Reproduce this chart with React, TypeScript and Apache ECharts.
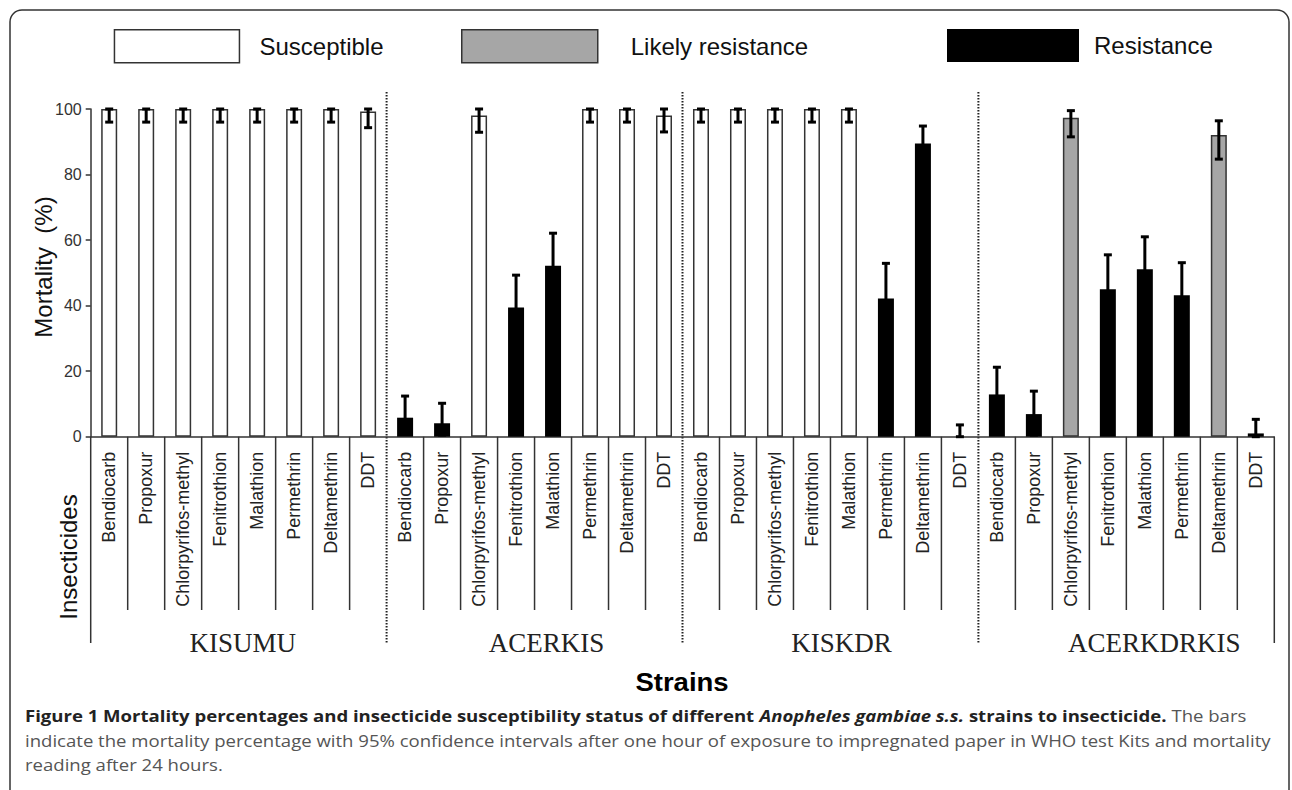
import React, { useEffect, useRef } from "react";
import * as echarts from "echarts";

// ---------- DATA ----------
const strains = ["KISUMU", "ACERKIS", "KISKDR", "ACERKDRKIS"];
const insecticides = [
  "Bendiocarb",
  "Propoxur",
  "Chlorpyrifos-methyl",
  "Fenitrothion",
  "Malathion",
  "Permethrin",
  "Deltamethrin",
  "DDT",
];
const statusNames = ["Susceptible", "Likely resistance", "Resistance"];

// mortality (%) per strain, in insecticide order
const kisumuMortality = [100, 100, 100, 100, 100, 100, 100, 99.2];
const acerkisMortality = [5.8, 4.1, 98, 39.4, 52.2, 100, 100, 98];
const kiskdrMortality = [100, 100, 100, 100, 100, 42.2, 89.5, 0];
const acerkdrkisMortality = [12.9, 6.9, 97.3, 45.0, 51.1, 43.2, 92.1, 1.0];

// 95% CI lower / upper
const kisumuLow = [96, 96, 96, 96, 96, 96, 96, 94.3];
const kisumuHigh = [100, 100, 100, 100, 100, 100, 100, 100];
const acerkisLow = [1.5, 0.5, 92.9, 29.5, 42.3, 96, 96, 93];
const acerkisHigh = [12.4, 10.2, 100, 49.3, 62.1, 100, 100, 100];
const kiskdrLow = [96, 96, 96, 96, 96, 32, 84.2, 0];
const kiskdrHigh = [100, 100, 100, 100, 100, 52.9, 94.8, 3.6];
const acerkdrkisLow = [4.6, 0.5, 91.5, 34.5, 41.2, 33.3, 84.7, 0];
const acerkdrkisHigh = [21.2, 13.9, 99.5, 55.5, 61.0, 53.1, 96.4, 5.3];

// status: 0 susceptible, 1 likely resistance, 2 resistance
const kisumuStatus = [0, 0, 0, 0, 0, 0, 0, 0];
const acerkisStatus = [2, 2, 0, 2, 2, 0, 0, 0];
const kiskdrStatus = [0, 0, 0, 0, 0, 2, 2, 2];
const acerkdrkisStatus = [2, 2, 1, 2, 2, 2, 1, 2];

const yTicks = [0, 20, 40, 60, 80, 100];

const mortality = [...kisumuMortality, ...acerkisMortality, ...kiskdrMortality, ...acerkdrkisMortality];
const ciLow = [...kisumuLow, ...acerkisLow, ...kiskdrLow, ...acerkdrkisLow];
const ciHigh = [...kisumuHigh, ...acerkisHigh, ...kiskdrHigh, ...acerkdrkisHigh];
const status = [...kisumuStatus, ...acerkisStatus, ...kiskdrStatus, ...acerkdrkisStatus];

const categories = strains.flatMap((s) => insecticides.map((i) => `${s}|${i}`));

const SANS = "'Liberation Sans', Arial, Helvetica, sans-serif";
const SERIF = "'Liberation Serif', 'Times New Roman', serif";
const CAP = "'Open Sans', 'Noto Sans', sans-serif";

const barStyles = [
  { color: "#ffffff", borderColor: "#333333", borderWidth: 1.5 },
  { color: "#a6a6a6", borderColor: "#333333", borderWidth: 1.5 },
  { color: "#000000", borderColor: "#000000", borderWidth: 0 },
];

export default function App() {
  const ref = useRef<HTMLDivElement>(null);

  useEffect(() => {
    if (!ref.current) return;
    const chart = echarts.init(ref.current, undefined, { renderer: "svg" });

    const gridLeft = 90.7;
    const gridRight = 17.7;
    const gridTop = 109;
    const gridBottom = 790 - 436.7;

    const legendBoxes = [
      { left: 113.7, w: 125, pad: 15 },
      { left: 461, w: 136, pad: 28 },
      { left: 947, w: 132, pad: 10 },
    ];

    const option: any = {
      animation: false,
      backgroundColor: "#ffffff",
      grid: { left: gridLeft, right: gridRight, top: gridTop, bottom: gridBottom, containLabel: false },
      legend: statusNames.map((n, k) => ({
        data: [n],
        left: legendBoxes[k].left,
        top: 29,
        padding: 0,
        itemWidth: legendBoxes[k].w,
        itemHeight: 33,
        selectedMode: false,
        icon: "rect",
        itemStyle: barStyles[k],
        textStyle: {
          fontFamily: SANS,
          fontSize: 24,
          color: "#111",
          padding: [0, 0, 0, legendBoxes[k].pad],
        },
      })),
      xAxis: {
        type: "category",
        data: categories,
        axisLine: { show: true, lineStyle: { color: "#333", width: 1.5 } },
        axisTick: { show: false },
        axisLabel: {
          interval: 0,
          rotate: 90,
          margin: 15,
          fontFamily: SANS,
          fontSize: 18,
          color: "#222",
          formatter: (v: string) => v.split("|")[1],
        },
      },
      yAxis: {
        type: "value",
        min: 0,
        max: 100,
        interval: 20,
        splitLine: { show: false },
        axisLine: { show: true, lineStyle: { color: "#333", width: 1.5 } },
        axisTick: { show: true, inside: false, length: 5, lineStyle: { color: "#333", width: 1.5 } },
        axisLabel: {
          margin: 9,
          fontFamily: SANS,
          fontSize: 16,
          color: "#333",
          formatter: (v: number) => (yTicks.includes(v) ? String(v) : ""),
        },
      },
      series: [
        ...statusNames.map((n, k) => ({
          name: n,
          type: "bar",
          barWidth: 16,
          barGap: "-100%",
          itemStyle: barStyles[k],
          data: mortality.map((v, i) => (status[i] === k ? v : "-")),
        })),
        {
          name: "CI",
          type: "custom",
          z: 5,
          data: mortality.map((_, i) => [i, ciLow[i], ciHigh[i]]),
          encode: { x: 0, y: [1, 2] },
          renderItem: (params: any, api: any) => {
            const i = api.value(0);
            const lo = api.coord([i, api.value(1)]);
            const hi = api.coord([i, api.value(2)]);
            const x = lo[0];
            const w = 4;
            const st = { stroke: "#000", lineWidth: 3 };
            return {
              type: "group",
              children: [
                { type: "line", shape: { x1: x, y1: lo[1], x2: x, y2: hi[1] }, style: st },
                { type: "line", shape: { x1: x - w, y1: hi[1], x2: x + w, y2: hi[1] }, style: st },
                { type: "line", shape: { x1: x - w, y1: lo[1], x2: x + w, y2: lo[1] }, style: st },
              ],
            };
          },
        },
      ],
    };
    chart.setOption(option);

    // structural decorations computed from the axis
    const c0 = chart.convertToPixel({ xAxisIndex: 0 }, 0) as number;
    const c1 = chart.convertToPixel({ xAxisIndex: 0 }, 1) as number;
    const band = c1 - c0;
    const yZero = chart.convertToPixel({ yAxisIndex: 0 }, 0) as number;
    const n = categories.length;
    const per = insecticides.length;
    const els: any[] = [];

    els.push({
      type: "rect",
      silent: true,
      shape: { x: 10, y: 10, width: 1279, height: 800, r: 12 },
      style: { fill: "none", stroke: "#333", lineWidth: 1.5 },
    });

    for (let i = 0; i <= n; i++) {
      const bx = c0 - band / 2 + i * band;
      if (i === 0 || i === n) {
        els.push({
          type: "line",
          silent: true,
          shape: { x1: bx, y1: yZero, x2: bx, y2: 643 },
          style: { stroke: "#333", lineWidth: 1.5 },
        });
      } else if (i % per === 0) {
        els.push({
          type: "line",
          silent: true,
          shape: { x1: bx, y1: 92, x2: bx, y2: 643 },
          style: { stroke: "#222", lineWidth: 2, lineDash: [1.5, 1.5] },
        });
      } else {
        els.push({
          type: "line",
          silent: true,
          shape: { x1: bx, y1: yZero, x2: bx, y2: 610 },
          style: { stroke: "#333", lineWidth: 1.5 },
        });
      }
    }

    const strainOffsets = [4, 12, 11, 28];
    strains.forEach((s, k) => {
      const mid = c0 - band / 2 + (k * per + per / 2) * band;
      els.push({
        type: "text",
        silent: true,
        x: mid + strainOffsets[k],
        y: 643,
        style: {
          text: s,
          fontFamily: SERIF,
          fontSize: 27,
          fill: "#222",
          align: "center",
          verticalAlign: "middle",
        },
      });
    });

    els.push({
      type: "text",
      silent: true,
      x: 43,
      y: 267,
      rotation: Math.PI / 2,
      style: {
        text: "Mortality  (%)",
        fontFamily: SANS,
        fontSize: 24,
        fill: "#111",
        align: "center",
        verticalAlign: "middle",
      },
    });
    els.push({
      type: "text",
      silent: true,
      x: 68,
      y: 557,
      rotation: Math.PI / 2,
      style: {
        text: "Insecticides",
        fontFamily: SANS,
        fontSize: 24,
        fill: "#111",
        align: "center",
        verticalAlign: "middle",
      },
    });
    els.push({
      type: "text",
      silent: true,
      x: 682,
      y: 682,
      scaleX: 1.1,
      style: {
        text: "Strains",
        fontFamily: SANS,
        fontWeight: 900,
        fontSize: 25,
        fill: "#000",
        align: "center",
        verticalAlign: "middle",
      },
    });

    const capScale = 1.16;
    els.push({
      type: "text",
      silent: true,
      x: 25,
      y: 716,
      scaleX: capScale,
      style: {
        text:
          "{b|Figure 1 Mortality percentages and insecticide susceptibility status of different }{bi|Anopheles gambiae s.s.}{b| strains to insecticide.}{r| The bars}",
        verticalAlign: "middle",
        rich: {
          b: { fontFamily: CAP, fontWeight: "bold", fontSize: 16, fill: "#222" },
          bi: { fontFamily: CAP, fontWeight: "bold", fontStyle: "italic", fontSize: 16, fill: "#222" },
          r: { fontFamily: CAP, fontSize: 16, fill: "#555" },
        },
      },
    });
    els.push({
      type: "text",
      silent: true,
      x: 25,
      y: 741,
      scaleX: capScale,
      style: {
        text:
          "indicate the mortality percentage with 95% confidence intervals after one hour of exposure to impregnated paper in WHO test Kits and mortality",
        fontFamily: CAP,
        fontSize: 16,
        fill: "#555",
        verticalAlign: "middle",
      },
    });
    els.push({
      type: "text",
      silent: true,
      x: 25,
      y: 765,
      scaleX: capScale,
      style: {
        text: "reading after 24 hours.",
        fontFamily: CAP,
        fontSize: 16,
        fill: "#555",
        verticalAlign: "middle",
      },
    });

    chart.setOption({ graphic: { elements: els } });

    return () => chart.dispose();
  }, []);

  return (
    <div
      ref={ref}
      style={{ position: "absolute", left: 0, top: 0, width: 1292, height: 790 }}
    />
  );
}
